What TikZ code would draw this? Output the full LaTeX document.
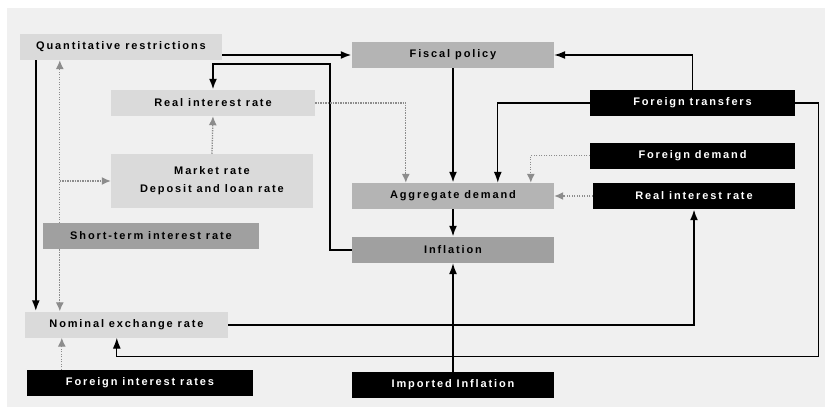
\documentclass[tikz,border=0pt]{standalone}
\usepackage{fontspec}
\setmainfont[LetterSpace=17]{Liberation Sans}
\usepackage{tikz}
\usetikzlibrary{arrows}
\usetikzlibrary{arrows.meta}
\usepackage{xcolor}
\definecolor{bggray}{HTML}{F0F0F0}
\definecolor{lightbox}{HTML}{DADADA}
\definecolor{midbox}{HTML}{B4B4B4}
\definecolor{darkbox}{HTML}{A0A0A0}
\definecolor{dotgray}{HTML}{8C8C8C}
\tikzset{
  box/.style={minimum height=26pt, inner sep=0pt, align=center,
    font=\bfseries\fontsize{11}{18}\selectfont},
  lbox/.style={box, fill=lightbox},
  mbox/.style={box, fill=midbox},
  dbox/.style={box, fill=darkbox},
  bbox/.style={box, fill=black, text=white},
  thk/.style={line width=2pt, arrows={-Latex[length=11pt,width=8pt]}},
  arr/.style={line width=1.3pt, arrows={-Latex[length=11pt,width=8pt]}},
  dot/.style={dotgray, line width=1.3pt, dash pattern=on 1.3pt off 1.2pt,
    arrows={-Latex[length=9pt,width=8pt]}}
}

\begin{document}
\begin{tikzpicture}[x=1pt,y=-1pt]
\useasboundingbox (0,0) rectangle (829,407);
\fill[bggray] (7,8) rectangle (825,407);
\node[lbox, minimum width=202pt] (qr) at (121,47) {Quantitative restrictions};
\node[mbox, minimum width=202pt] (fp) at (453,55) {Fiscal policy};
\node[lbox, minimum width=204pt] (rir) at (213,103) {Real interest rate};
\node[lbox, minimum width=202pt, minimum height=54pt] (mr) at (212,181) {Market rate\\Deposit and loan rate};
\node[dbox, minimum width=216pt] (sti) at (151,236) {Short-term interest rate};
\node[mbox, minimum width=202pt] (ad) at (453,196) {Aggregate demand};
\node[dbox, minimum width=202pt] (inf) at (453,250) {Inflation};
\node[bbox, minimum width=205pt] (ft) at (692.5,103) {Foreign transfers};
\node[bbox, minimum width=205pt] (fd) at (692.5,155.5) {Foreign demand};
\node[bbox, minimum width=202pt] (rir2) at (694,196) {Real interest rate};
\node[lbox, minimum width=203pt] (ner) at (126.5,324.5) {Nominal exchange rate};
\node[bbox, minimum width=226pt] (fir) at (140,383) {Foreign interest rates};
\node[bbox, minimum width=202pt] (ii) at (453,385) {Imported Inflation};
\draw[thk] (qr.east |- fp.west) -- (fp.west);
\draw[thk] (inf.west) -- ++(-22,0) |- ([yshift=26pt]rir.north) -- (rir.north);
\draw[thk] ([xshift=16pt]qr.south west) -- ([xshift=16pt]qr.south west |- ner.north);
\draw[dot] ([xshift=17pt]sti.north west) -- ([xshift=17pt]sti.north west |- qr.south);
\draw[dot] ([xshift=17pt]sti.north west |- mr.west) -- (mr.west);
\draw[dot] ([xshift=17pt]sti.south west) -- ([xshift=17pt]sti.south west |- ner.north);
\draw[dot] (mr.north) -- (rir.south);
\draw[dot] (rir.east) -| ([xshift=54pt]ad.north west);
\draw[thk] (fp.south) -- (ad.north);
\draw[arr] (ft.west) -| ([xshift=146pt]ad.north west);
\draw[arr] (ft.north) |- (fp.east);
\draw[dot] (fd.west) -| ([xshift=179pt]ad.north west);
\draw[dot] (rir2.west) -- (rir2.west -| ad.east);
\draw[thk] (ad.south) -- (inf.north);
\draw[arr] (ii.north) -- (inf.south);
\draw[thk] (ner.east) -| (rir2.south);
\draw[arr] (ft.east) -- ++(23,0) |- ([yshift=-19pt]ner.south) -| ([xshift=92pt]ner.south west);
\draw[dot] ([xshift=35pt]fir.north west) -- ([xshift=35pt]fir.north west |- ner.south);
\end{tikzpicture}
\end{document}
